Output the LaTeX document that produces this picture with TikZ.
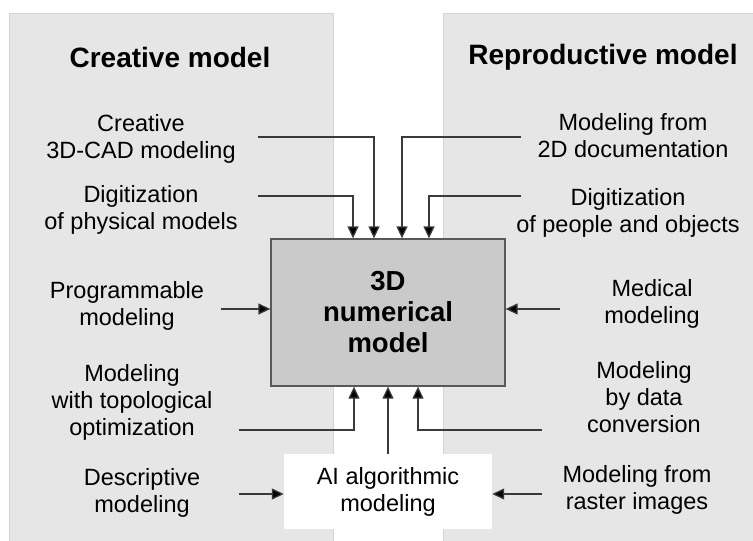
\documentclass[tikz,border=0pt]{standalone}
\usepackage{fontspec}
\setmainfont{Liberation Sans}
\usetikzlibrary{arrows.meta}
\definecolor{panelgray}{HTML}{E6E6E6}
\definecolor{boxgray}{HTML}{CACACA}
\definecolor{linegray}{HTML}{3A3A3A}
\begin{document}
\begin{tikzpicture}[x=1pt,y=-1pt,
  lbl/.style={align=center,inner sep=0pt,font=\fontsize{23.5}{27}\selectfont},
  ttl/.style={inner sep=0pt,font=\fontsize{28}{32}\selectfont\bfseries},
  arr/.style={draw=linegray,line width=1.3pt,-{Triangle[length=12pt,width=11pt,fill=black]}},
  panel/.style={fill=panelgray,draw=panelgray!92!black,line width=0.6pt}]
\useasboundingbox (0,0) rectangle (753,541);
% panels
\path[panel] (9,13) rectangle (333,541);
\path[panel] (443,13) rectangle (753,541);
% titles
\node[ttl] (t1) at (170,57) {Creative model};
\node[ttl] (t2) at (603,57) {Reproductive model};
% central box
\node[draw=linegray!85,line width=1.3pt,fill=boxgray,minimum width=234pt,minimum height=147pt,
  align=center,font=\fontsize{27.5}{31}\selectfont\bfseries] (main) at (388,312.5)
  {3D\\numerical\\model};
% AI box
\node[fill=white,minimum width=208pt,minimum height=75pt,align=center,
  font=\fontsize{23.5}{27}\selectfont] (ai) at (388,491.5) {AI algorithmic\\modeling};
% labels
\node[lbl] (cad) at (141,138.5) {Creative\\3D-CAD modeling};
\node[lbl] (dig) at (141,210) {Digitization\\of physical models};
\node[lbl] (prog) at (127,306) {Programmable\\modeling};
\node[lbl] (topo) at (132,402) {Modeling\\with topological\\optimization};
\node[lbl] (desc) at (142,493) {Descriptive\\modeling};
\node[lbl] (doc) at (633,135.5) {Modeling from\\2D documentation};
\node[lbl] (digp) at (628,212.5) {Digitization\\of people and objects};
\node[lbl] (med) at (652,304) {Medical\\modeling};
\node[lbl] (conv) at (644,397) {Modeling\\by data\\conversion};
\node[lbl] (rast) at (637,489.5) {Modeling from\\raster images};
% connector start points
\coordinate (cadS) at (258,137);
\coordinate (digS) at (258,196);
\coordinate (docS) at (521,137);
\coordinate (digpS) at (521,196);
\coordinate (progS) at (221,309);
\coordinate (medS) at (560,309);
\coordinate (topoS) at (239,430);
\coordinate (convS) at (542,430);
\coordinate (descS) at (239,494);
\coordinate (rastS) at (542,494);
% connectors
\draw[arr] (digS) -| ([xshift=-35pt]main.north);
\draw[arr] (cadS) -| ([xshift=-14pt]main.north);
\draw[arr] (docS) -| ([xshift=14pt]main.north);
\draw[arr] (digpS) -| ([xshift=41pt]main.north);
\draw[arr] (progS) -- (progS -| main.west);
\draw[arr] (medS) -- (medS -| main.east);
\draw[arr] (topoS) -| ([xshift=-34pt]main.south);
\draw[arr] (convS) -| ([xshift=30pt]main.south);
\draw[arr] (ai.north) -- (main.south);
\draw[arr] (descS) -- (descS -| ai.west);
\draw[arr] (rastS) -- (rastS -| ai.east);
\end{tikzpicture}
\end{document}
